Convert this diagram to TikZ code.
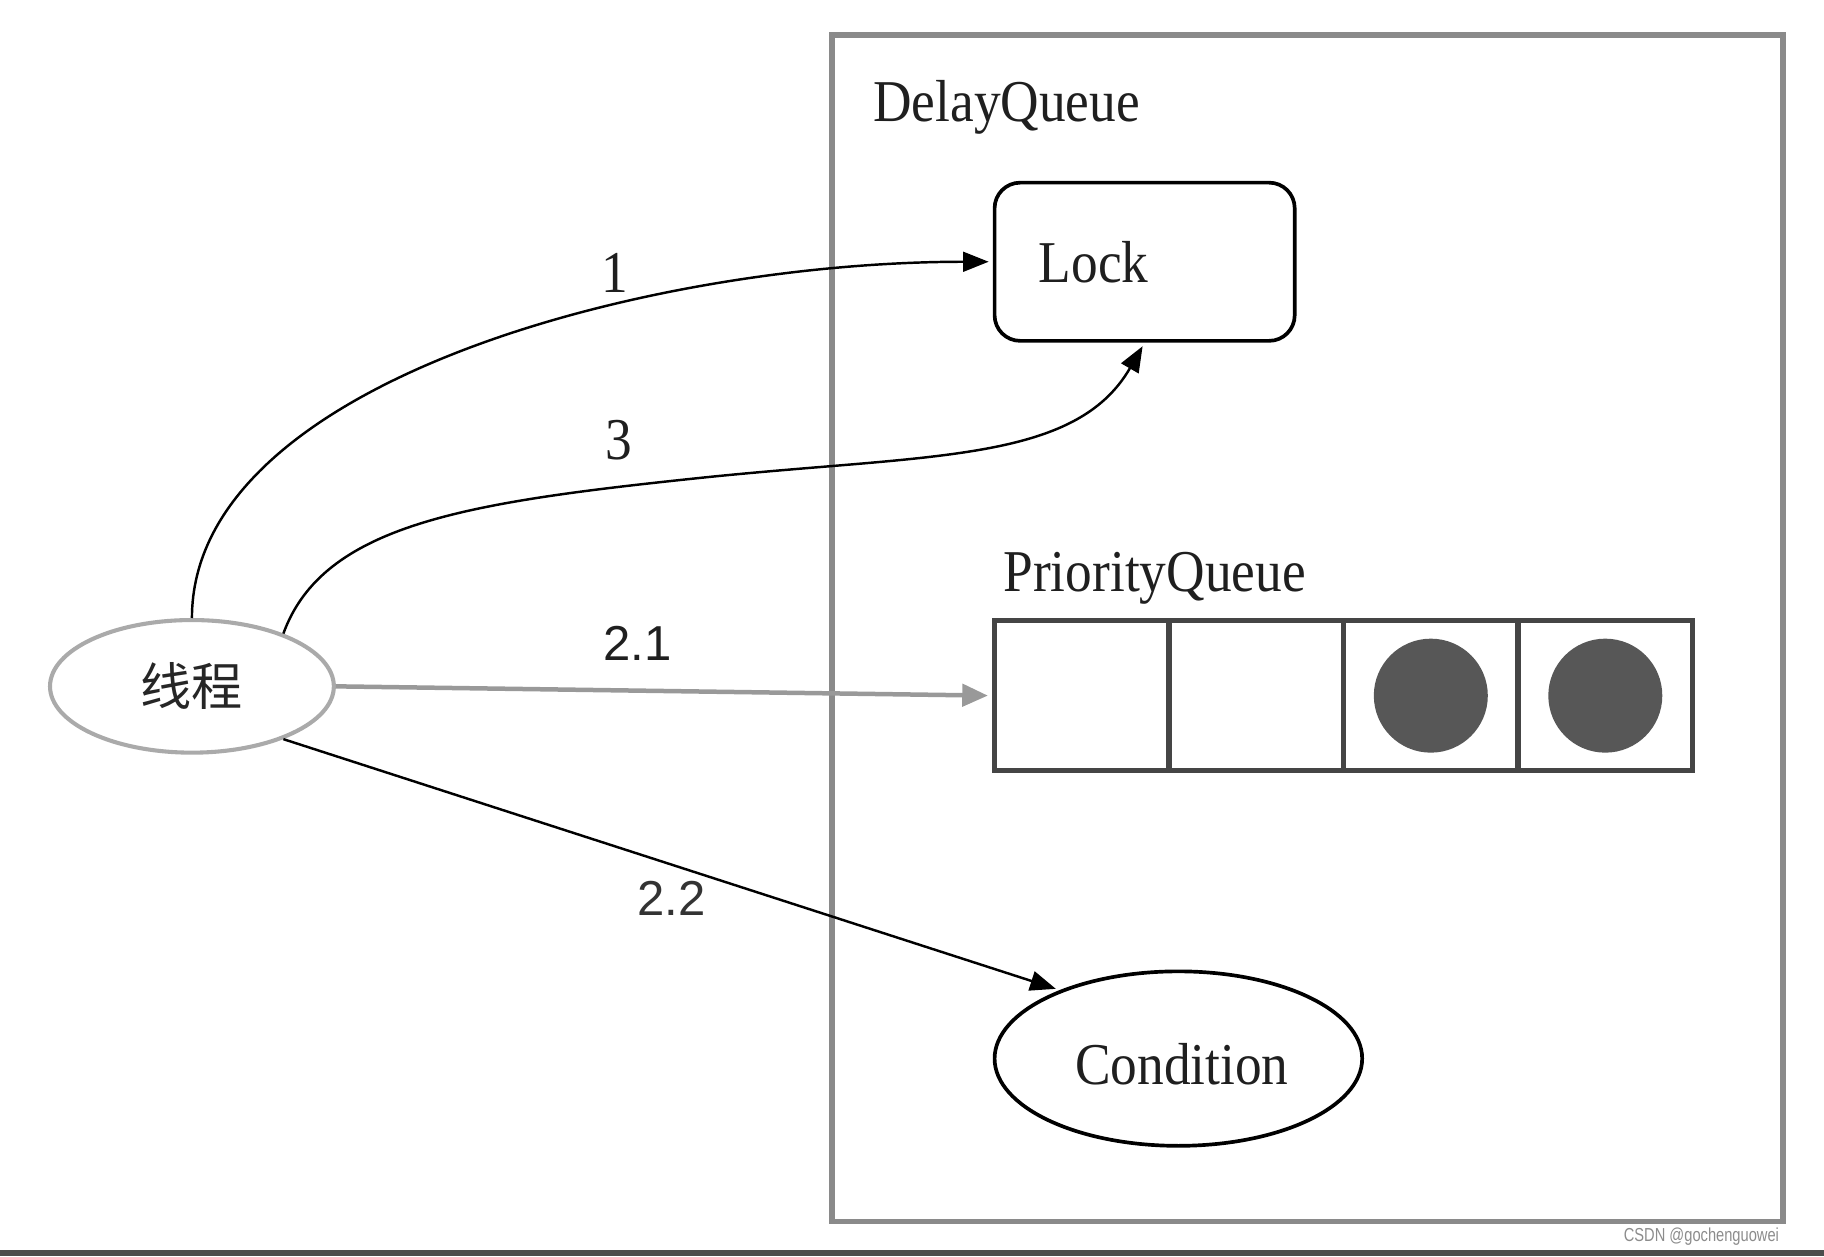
\documentclass[tikz,border=0pt]{standalone}
\usepackage{fontspec}
\setmainfont{Liberation Serif}[FakeStretch=0.9]
\newfontfamily\sansn{Liberation Sans}
\newfontfamily\marksans{Liberation Sans}[FakeStretch=0.78]
\newfontfamily\cjk{Noto Sans CJK SC}
\usetikzlibrary{arrows.meta,positioning,shapes.geometric}
\definecolor{framegray}{HTML}{8A8A8A}
\definecolor{cellgray}{HTML}{454545}
\definecolor{dotgray}{HTML}{575757}
\definecolor{thrgray}{HTML}{AAAAAA}
\definecolor{arrgray}{HTML}{999999}

\begin{document}
\begin{tikzpicture}[x=0.1mm,y=-0.1mm,>={Triangle[length=2.2mm,width=1.7mm]},
    lbl/.style={font=\fontsize{14.5}{16}\selectfont,text=black!88,inner sep=0pt},
    cell/.style={draw=cellgray,line width=1.3pt,minimum width=15mm,minimum height=12.9mm,inner sep=0pt},
    dot/.style={circle,fill=dotgray,minimum size=9.8mm,inner sep=0pt},
    link/.style={->,line width=0.6pt,shorten >=1pt}]
    \useasboundingbox (0,0) rectangle (1568,1080);
    \node[draw=framegray,line width=1.4pt,minimum width=81.8mm,minimum height=102mm](dq) at (1124,540) {};
    \node[lbl,anchor=west](dqname) at (750,92) {DelayQueue};
    \node[lbl,draw,line width=0.9pt,rounded corners=2.2mm,minimum width=25.8mm,minimum height=13.6mm,
        text width=18.2mm,inner xsep=3.8mm,align=left](lock) at (984,225) {Lock};
    \node[lbl,anchor=west](pqname) at (862,497) {PriorityQueue};
    \foreach \i in {1,...,4}
        \node[cell](q\i) at ({930+150*(\i-1)},598) {};
    \node[dot](d3) at (q3) {};
    \node[dot](d4) at (q4) {};
    \node[lbl,ellipse,draw,line width=0.9pt,minimum width=31.6mm,minimum height=15mm](cond) at (1013,910) {};
    \node[lbl](condname) at (1016,915) {Condition};
    \node[ellipse,draw=thrgray,line width=1pt,minimum width=24.4mm,minimum height=11.4mm,inner sep=0pt,
        font=\cjk\fontsize{12.5}{14}\selectfont,text=black!85](thr) at (165,590) {线程};
    \coordinate (mid3) at (600,411);
    \path[link]
        (thr.north) edge[out=90,in=180,out distance=20.3mm,in distance=29.5mm]
            node[lbl,pos=0.65,above=1mm](l1){1} (lock.west)
        (thr.-30) edge node[lbl,font=\sansn\fontsize{12}{14}\selectfont,text=black!80,pos=0.5,below=1.3mm](l22){2.2} (cond.150);
    \draw[link] (thr.30) to[out=70,in=186,out distance=10mm,in distance=20mm]
            node[lbl,pos=0.88,above=2.2mm](l3){3} (mid3)
        to[out=6,in=240,out distance=20mm,in distance=12mm] (lock.south);
    \draw[->,draw=arrgray,line width=1.1pt,shorten >=1pt,>={Triangle[length=2.2mm,width=1.9mm]}]
        (thr.east) -- node[lbl,font=\sansn\fontsize{12}{14}\selectfont,pos=0.46,above=2.4mm](l21){2.1} (q1.west);
    \node[font=\marksans\fontsize{4.6}{5}\selectfont,text=black!45,anchor=east,inner sep=0pt](mark) at (1530,1063) {CSDN @gochenguowei};
    \draw[line width=0.5mm,black!70] (0,1077) -- (1568,1077);
\end{tikzpicture}
\end{document}
